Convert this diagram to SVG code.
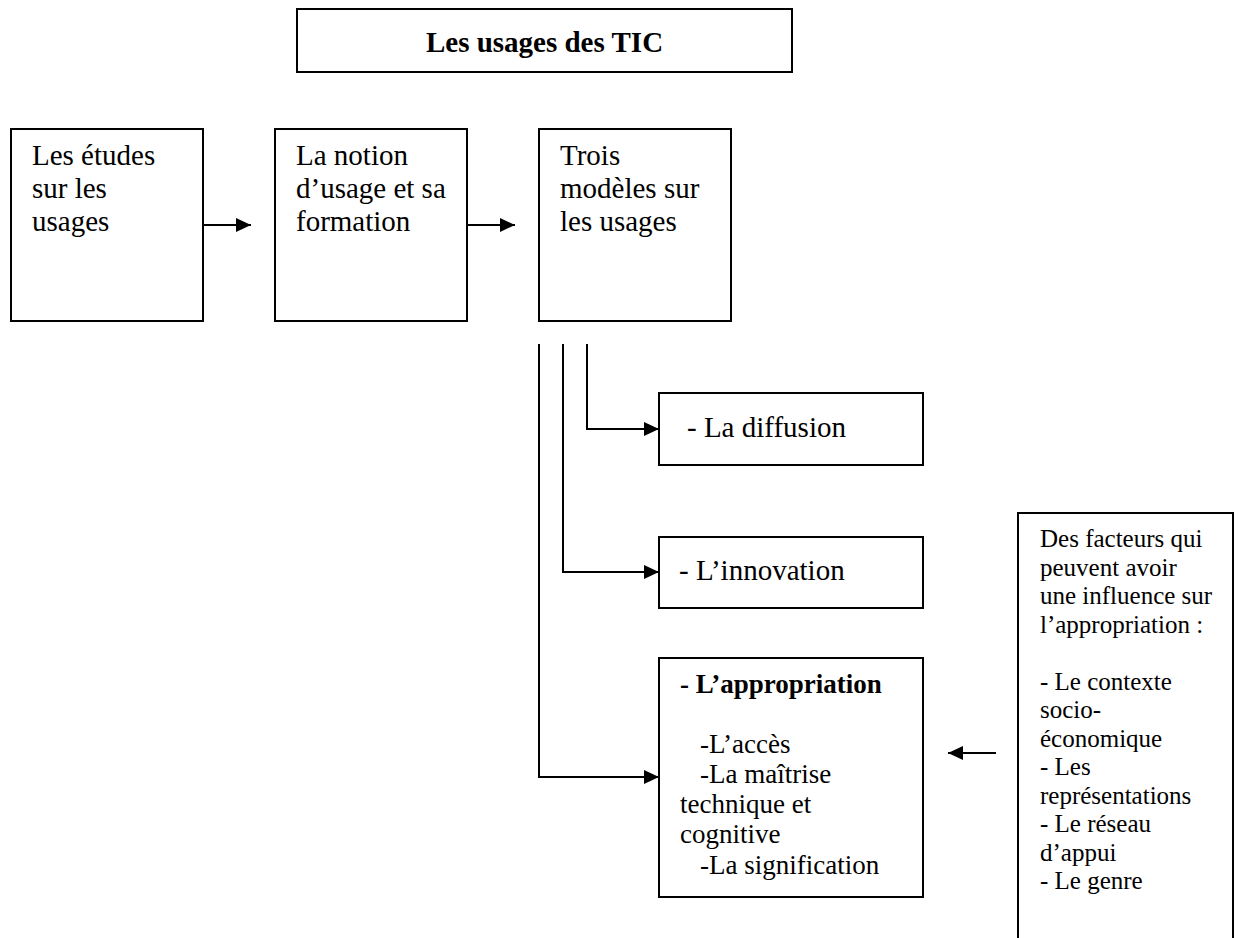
<svg xmlns="http://www.w3.org/2000/svg" width="1239" height="938" viewBox="0 0 1239 938">
<style>
rect.box{fill:#fff;stroke:#000;stroke-width:2}
text{font-family:"Liberation Serif","Times New Roman",serif;fill:#000}
.t29{font-size:29px}
.t27{font-size:27px}
.t25{font-size:25px}
.title{font-size:29px;font-weight:bold}
.b{font-weight:bold}
.conn{fill:none;stroke:#000;stroke-width:2}
</style>
<defs>
<marker id="ah" markerWidth="16" markerHeight="14" refX="15" refY="7" orient="auto" markerUnits="userSpaceOnUse">
<path d="M0,0 L15,7 L0,14 Z" fill="#000"/>
</marker>
</defs>
<rect width="1239" height="938" fill="#fff"/>
<g id="title">
<rect class="box" x="297" y="9" width="495" height="63"/>
<text class="title" x="544.5" y="52" text-anchor="middle">Les usages des TIC</text>
</g>
<g id="etudes">
<rect class="box" x="11" y="129" width="192" height="192"/>
<text class="t29" x="32" y="165"><tspan x="32">Les études</tspan><tspan x="32" dy="33">sur les</tspan><tspan x="32" dy="33">usages</tspan></text>
</g>
<g id="notion">
<rect class="box" x="275" y="129" width="192" height="192"/>
<text class="t29" x="296" y="165"><tspan x="296">La notion</tspan><tspan x="296" dy="33">d’usage et sa</tspan><tspan x="296" dy="33">formation</tspan></text>
</g>
<g id="modeles">
<rect class="box" x="539" y="129" width="192" height="192"/>
<text class="t29" x="560" y="165"><tspan x="560">Trois</tspan><tspan x="560" dy="33">modèles sur</tspan><tspan x="560" dy="33">les usages</tspan></text>
</g>
<g id="diffusion">
<rect class="box" x="659" y="393" width="264" height="72"/>
<text class="t29" x="687" y="437">- La diffusion</text>
</g>
<g id="innovation">
<rect class="box" x="659" y="537" width="264" height="71"/>
<text class="t29" x="679" y="580">- L’innovation</text>
</g>
<g id="appropriation">
<rect class="box" x="659" y="658" width="264" height="239"/>
<text class="t27" x="680" y="693"><tspan class="b" x="680">- L’appropriation</tspan><tspan x="700" dy="60">-L’accès</tspan><tspan x="700" dy="30">-La maîtrise</tspan><tspan x="680" dy="30">technique et</tspan><tspan x="680" dy="30">cognitive</tspan><tspan x="700" dy="31">-La signification</tspan></text>
</g>
<g id="facteurs">
<path d="M1018,945 V513 H1233 V945" fill="#fff" stroke="#000" stroke-width="2"/>
<text class="t25" x="1040" y="547"><tspan x="1040">Des facteurs qui</tspan><tspan x="1040" dy="28.5">peuvent avoir</tspan><tspan x="1040" dy="28.5">une influence sur</tspan><tspan x="1040" dy="28.5">l’appropriation :</tspan><tspan x="1040" dy="57">- Le contexte</tspan><tspan x="1040" dy="28.5">socio-</tspan><tspan x="1040" dy="28.5">économique</tspan><tspan x="1040" dy="28.5">- Les</tspan><tspan x="1040" dy="28.5">représentations</tspan><tspan x="1040" dy="28.5">- Le réseau</tspan><tspan x="1040" dy="28.5">d’appui</tspan><tspan x="1040" dy="28.5">- Le genre</tspan></text>
</g>
<g id="connectors">
<path class="conn" d="M203,225 H251" marker-end="url(#ah)"/>
<path class="conn" d="M467,225 H515" marker-end="url(#ah)"/>
<path class="conn" d="M587,344 V429 H659" marker-end="url(#ah)"/>
<path class="conn" d="M563,344 V572 H659" marker-end="url(#ah)"/>
<path class="conn" d="M539,344 V777 H659" marker-end="url(#ah)"/>
<path class="conn" d="M996,753 H948" marker-end="url(#ah)"/>
</g>
</svg>
